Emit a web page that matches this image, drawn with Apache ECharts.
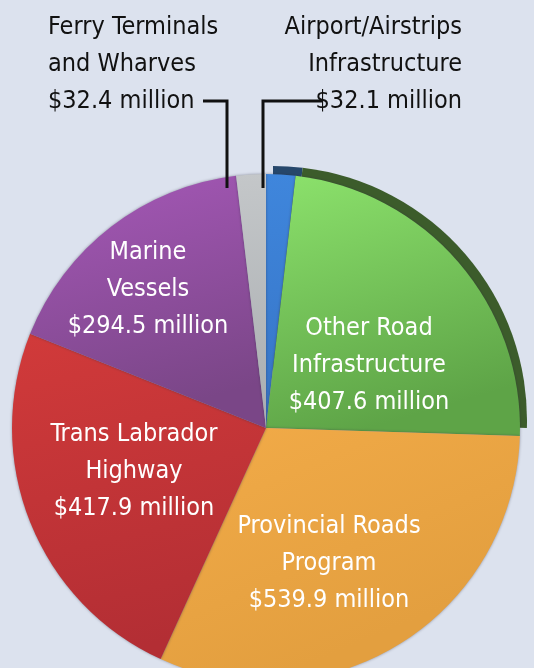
<!DOCTYPE html>
<html>
<head>
    <meta charset="utf-8">
    <title>Transportation investment</title>
    <script src="https://cdn.jsdelivr.net/npm/echarts@6/dist/echarts.min.js"></script>
    <style>
        html, body { margin: 0; padding: 0; background: #dce2ee; }
        #main { width: 534px; height: 668px; }
    </style>
</head>
<body>
<div id="main"></div>
<script type="text/javascript">
    // categories, clockwise from 12 o'clock
    var names = [
        'Airport/Airstrips\nInfrastructure',
        'Other Road\nInfrastructure',
        'Provincial Roads\nProgram',
        'Trans Labrador\nHighway',
        'Marine\nVessels',
        'Ferry Terminals\nand Wharves'
    ];
    // $ million
    var values = [32.1, 407.6, 539.9, 417.9, 294.5, 32.4];

    // slice colours (top, bottom of gradient)
    var colours = [
        ['#3f86dc', '#3674c6'],
        ['#8ce26c', '#5ea447'],
        ['#f2ab48', '#e39f3f'],
        ['#d13a3a', '#b32e34'],
        ['#a658b8', '#7a4687'],
        ['#c4c7c9', '#a9adb0']
    ];
    // where each label block sits (text anchor)
    var labelSpots = [
        { x: 462, y: 64, align: 'right' },
        { x: 369, y: 365, align: 'center' },
        { x: 329, y: 563, align: 'center' },
        { x: 134, y: 471, align: 'center' },
        { x: 148, y: 289, align: 'center' },
        { x: 48, y: 64, align: 'left' }
    ];

    var FONT = '"Liberation Sans Narrow", "Arial Narrow", "DejaVu Sans Condensed", sans-serif';

    var pieData = [];
    var rimData = [];
    for (var i = 0; i < values.length; i++) {
        var small = (i === 0 || i === 5);
        pieData.push({
            name: names[i],
            value: values[i],
            itemStyle: {
                color: {
                    type: 'linear', x: 0, y: 0, x2: 0.3, y2: 1,
                    colorStops: [
                        { offset: 0, color: colours[i][0] },
                        { offset: 1, color: colours[i][1] }
                    ]
                }
            },
            label: { color: small ? '#111111' : '#ffffff' }
        });
        rimData.push({
            name: names[i],
            value: values[i],
            itemStyle: { color: i === 1 ? '#3c5c2b' : (i === 0 ? '#26476b' : 'rgba(0,0,0,0)') }
        });
    }

    var myChart = echarts.init(document.getElementById('main'));

    var option = {
        backgroundColor: '#dce2ee',
        animation: false,
        series: [
            {
                // dark rim behind the top-right edge
                name: 'rim',
                type: 'pie',
                center: [273, 420],
                radius: [0, 254],
                startAngle: 90,
                clockwise: true,
                silent: true,
                label: { show: false },
                labelLine: { show: false },
                data: rimData
            },
            {
                name: 'spending',
                type: 'pie',
                center: [266, 428],
                radius: [0, 254],
                startAngle: 90,
                clockwise: true,
                itemStyle: {
                    borderWidth: 0,
                    shadowBlur: 3,
                    shadowColor: 'rgba(40,40,60,0.45)'
                },
                label: {
                    show: true,
                    position: 'inside',
                    fontFamily: FONT,
                    fontSize: 25,
                    lineHeight: 37,
                    formatter: function (p) {
                        return p.name + '\n$' + p.value.toFixed(1) + ' million';
                    }
                },
                labelLine: { show: false },
                labelLayout: function (p) {
                    var s = labelSpots[p.dataIndex];
                    return { x: s.x, y: s.y, align: s.align, verticalAlign: 'middle' };
                },
                data: pieData
            }
        ],
        graphic: [
            {
                type: 'polyline',
                shape: { points: [[203, 101], [227, 101], [227, 188]] },
                style: { stroke: '#111111', lineWidth: 3, fill: null },
                z: 100
            },
            {
                type: 'polyline',
                shape: { points: [[322, 101], [263, 101], [263, 188]] },
                style: { stroke: '#111111', lineWidth: 3, fill: null },
                z: 100
            }
        ]
    };

    myChart.setOption(option);
</script>
</body>
</html>
